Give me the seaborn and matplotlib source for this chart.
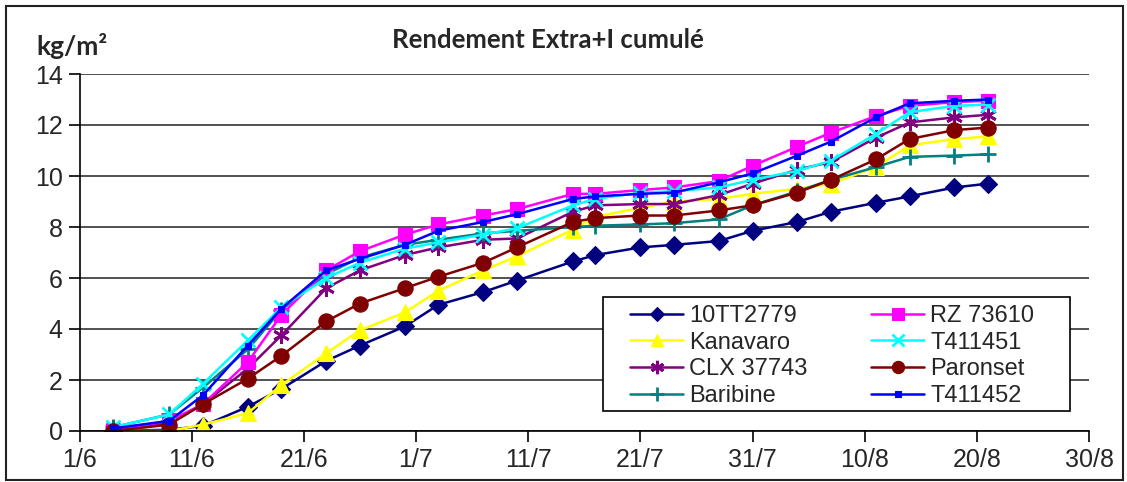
import pandas as pd
import matplotlib
matplotlib.use("Agg")
import matplotlib.pyplot as plt
import seaborn as sns
from matplotlib.patches import Rectangle

# ── Data ────────────────────────────────────────────────────────────────────
dates = ["4/6", "9/6", "12/6", "16/6", "19/6", "23/6", "26/6", "30/6", "3/7",
         "7/7", "10/7", "15/7", "17/7", "21/7", "24/7", "28/7", "31/7", "4/8",
         "7/8", "11/8", "14/8", "18/8", "21/8"]

tt2779   = [0.0, 0.05, 0.2, 0.95, 1.65, 2.75, 3.35, 4.1, 4.95, 5.45, 5.9, 6.65,
            6.9, 7.2, 7.3, 7.45, 7.85, 8.2, 8.6, 8.95, 9.2, 9.55, 9.7]
kanavaro = [0.0, 0.0, 0.25, 0.7, 1.8, 3.05, 3.95, 4.65, 5.5, 6.3, 6.85, 7.9,
            8.4, 8.75, 9.0, 9.1, 9.3, 9.5, 9.7, 10.35, 11.2, 11.45, 11.55]
clx37743 = [0.1, 0.3, 1.05, 2.45, 3.75, 5.6, 6.3, 6.9, 7.2, 7.5, 7.55, 8.6,
            8.85, 8.9, 8.9, 9.25, 9.7, 10.25, 10.55, 11.5, 12.1, 12.3, 12.4]
baribine = [0.15, 0.65, 1.7, 3.2, 4.75, 6.15, 6.8, 7.3, 7.5, 7.75, 7.85, 8.0,
            8.05, 8.1, 8.15, 8.3, 8.85, 9.4, 9.85, 10.35, 10.75, 10.8, 10.85]
rz73610  = [0.0, 0.4, 1.05, 2.7, 4.55, 6.3, 7.05, 7.7, 8.1, 8.45, 8.7, 9.3,
            9.3, 9.45, 9.55, 9.8, 10.4, 11.15, 11.7, 12.35, 12.75, 12.9, 12.95]
t411451  = [0.15, 0.65, 1.85, 3.55, 4.85, 6.0, 6.6, 7.15, 7.4, 7.7, 7.95, 8.85,
            9.1, 9.35, 9.4, 9.55, 9.85, 10.2, 10.6, 11.65, 12.5, 12.75, 12.8]
paronset = [0.0, 0.25, 1.05, 2.05, 2.95, 4.3, 5.0, 5.6, 6.05, 6.6, 7.2, 8.2,
            8.35, 8.45, 8.45, 8.65, 8.85, 9.35, 9.85, 10.65, 11.45, 11.8, 11.9]
t411452  = [0.1, 0.4, 1.4, 3.35, 4.8, 6.3, 6.75, 7.3, 7.85, 8.2, 8.5, 9.1,
            9.2, 9.3, 9.35, 9.75, 10.1, 10.8, 11.35, 12.3, 12.85, 12.95, 13.0]

series_names = ["10TT2779", "Kanavaro", "CLX 37743", "Baribine",
                "RZ 73610", "T411451", "Paronset", "T411452"]
series_vals = [tt2779, kanavaro, clx37743, baribine,
               rz73610, t411451, paronset, t411452]

xtick_labels = ["1/6", "11/6", "21/6", "1/7", "11/7", "21/7", "31/7",
                "10/8", "20/8", "30/8"]

# ── Styles ───────────────────────────────────────────────────────────────────
colors = {"10TT2779": "#000080", "Kanavaro": "#FFFF00", "CLX 37743": "#800080",
          "Baribine": "#008080", "RZ 73610": "#FF00FF", "T411451": "#00FFFF",
          "Paronset": "#800000", "T411452": "#0000FF"}
markers = {"10TT2779": "D", "Kanavaro": "^", "CLX 37743": (6, 2, 0),
           "Baribine": "+", "RZ 73610": "s", "T411451": "x",
           "Paronset": "o", "T411452": "s"}
msizes = {"10TT2779": 9, "Kanavaro": 11, "CLX 37743": 12, "Baribine": 12,
          "RZ 73610": 10, "T411451": 10, "Paronset": 11, "T411452": 5}

start = pd.Timestamp("2011-06-01")
day = [(pd.to_datetime(d + "/2011", format="%d/%m/%Y") - start).days for d in dates]

df = pd.concat([pd.DataFrame({"day": day, "value": v, "variety": n})
                for n, v in zip(series_names, series_vals)], ignore_index=True)

sns.set_theme(style="white")
plt.rcParams["font.family"] = ["Liberation Sans", "DejaVu Sans"]

W, H = 1127, 482
fig = plt.figure(figsize=(W / 100, H / 100), dpi=100)
ax = fig.add_axes([79.5 / W, 1 - 431 / H, (1089 - 79.5) / W, (431 - 74) / H])

for name in series_names:
    sub = df[df["variety"] == name]
    mk = markers[name]
    filled = mk not in ("+", "x", (6, 2, 0))
    sns.lineplot(data=sub, x="day", y="value", ax=ax, color=colors[name],
                 marker=mk, markersize=msizes[name], linewidth=1.8,
                 markeredgewidth=2 if not filled else 0.8,
                 markeredgecolor=colors[name], label=name)

ax.set_xlim(0, 90)
ax.set_ylim(0, 14)
ax.set_xticks(range(0, 91, 10))
ax.set_xticklabels(xtick_labels)
ax.set_yticks(range(0, 15, 2))
ax.tick_params(axis="both", labelsize=18, length=8, width=1.2, color="black",
               direction="out", left=True, bottom=True, pad=4)
ax.yaxis.grid(True, color="#333333", linewidth=1.2)
ax.set_axisbelow(True)
for s in ["top", "right"]:
    ax.spines[s].set_visible(False)
for s in ["left", "bottom"]:
    ax.spines[s].set_color("black")
    ax.spines[s].set_linewidth(1.2)
ax.set_xlabel("")
ax.set_ylabel("")

# legend without its own frame; the box is drawn separately (wider left/right margin)
leg = ax.legend(ncol=2, loc="upper left",
                bbox_to_anchor=(630 / W, 1 - 305 / H),
                bbox_transform=fig.transFigure, frameon=False,
                prop={"size": 17}, handlelength=2.25, labelspacing=0.2,
                columnspacing=2.7, borderpad=0, handletextpad=0.25,
                borderaxespad=0, markerscale=0.8)
box = Rectangle((603 / W, 1 - 411 / H), (1070 - 603) / W, (411 - 297) / H,
                transform=fig.transFigure, fill=True, facecolor="white",
                edgecolor="black", linewidth=1.2, zorder=4, clip_on=False)
ax.add_patch(box)
leg.set_zorder(5)

fig.text(548 / W, 1 - 40 / H, "Rendement Extra+I cumulé", ha="center",
         va="center", fontsize=18.5, fontweight="bold", family=["Lato", "DejaVu Sans"])
fig.text(72 / W, 1 - 46 / H, "kg/m²", ha="center", va="center",
         fontsize=19, fontweight="bold", family=["Lato", "DejaVu Sans"])

fig.patches.append(Rectangle((6 / W, 2 / H), 1117 / W, 474 / H,
                             transform=fig.transFigure, fill=False,
                             edgecolor="#222222", linewidth=1.5))

fig.savefig("out.png", dpi=100)
